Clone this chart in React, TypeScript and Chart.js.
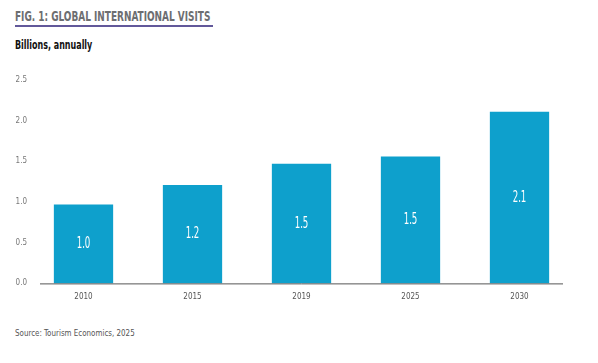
import React, { useEffect, useRef } from "react";
import { Chart, registerables } from "chart.js";

Chart.register(...registerables);

const categories = ["2010", "2015", "2019", "2025", "2030"];
const visits = [0.97, 1.21, 1.47, 1.56, 2.11];
const barLabels = ["1.0", "1.2", "1.5", "1.5", "2.1"];
const yTicks = [0, 0.5, 1.0, 1.5, 2.0, 2.5];

const FONT = "'DejaVu Sans Condensed', 'DejaVu Sans', sans-serif";
const BAR_COLOR = "#0ea0cc";

const insideLabels = {
  id: "insideLabels",
  afterDatasetsDraw(chart: any) {
    const ctx = chart.ctx;
    const meta = chart.getDatasetMeta(0);
    ctx.save();
    ctx.fillStyle = "#ffffff";
    ctx.font = `16px ${FONT}`;
    ctx.textAlign = "center";
    ctx.textBaseline = "middle";
    meta.data.forEach((bar: any, i: number) => {
      const mid = (bar.y + bar.base) / 2;
      ctx.save();
      ctx.translate(bar.x, mid);
      ctx.scale(0.6, 1);
      ctx.fillText(barLabels[i], 0, 0);
      ctx.restore();
    });
    ctx.restore();
  },
};

const baseLine = {
  id: "baseLine",
  afterDatasetsDraw(chart: any) {
    const { ctx, chartArea } = chart;
    const y = chart.scales.y.getPixelForValue(0);
    ctx.save();
    ctx.strokeStyle = "#555555";
    ctx.lineWidth = 1;
    ctx.beginPath();
    ctx.moveTo(chartArea.left + 11, y + 0.5);
    ctx.lineTo(chartArea.right - 11, y + 0.5);
    ctx.stroke();
    ctx.restore();
  },
};

function BarChart() {
  const ref = useRef<HTMLCanvasElement | null>(null);
  useEffect(() => {
    if (!ref.current) return;
    const chart = new Chart(ref.current, {
      type: "bar",
      data: {
        labels: categories,
        datasets: [
          {
            data: visits,
            backgroundColor: BAR_COLOR,
            categoryPercentage: 0.8,
            barPercentage: 0.68,
          },
        ],
      },
      options: {
        animation: false,
        responsive: false,
        maintainAspectRatio: false,
        layout: { padding: { top: 20, left: 0, right: 24, bottom: 11 } },
        plugins: { legend: { display: false }, tooltip: { enabled: false } },
        scales: {
          x: {
            grid: { display: false, drawTicks: false },
            border: { display: false },
            ticks: { color: "#555555", font: { family: FONT, size: 8 }, padding: 9 },
          },
          y: {
            min: 0,
            max: 2.5,
            grid: { display: false, drawTicks: false },
            border: { display: false },
            afterFit(scale: any) {
              scale.width = 29;
            },
            afterBuildTicks(scale: any) {
              scale.ticks = yTicks.map((v) => ({ value: v }));
            },
            ticks: {
              color: "#777777",
              font: { family: FONT, size: 8 },
              padding: 2,
              callback: (v: any) => Number(v).toFixed(1),
            },
          },
        },
      },
      plugins: [insideLabels, baseLine],
    });
    return () => chart.destroy();
  }, []);
  return <canvas ref={ref} width={598} height={262} style={{ position: "absolute", left: 0, top: 60 }} />;
}

export default function App() {
  return (
    <div
      style={{
        position: "fixed",
        left: 0,
        top: 0,
        width: 598,
        height: 363,
        background: "#ffffff",
        overflow: "hidden",
        fontFamily: FONT,
      }}
    >
      <div
        style={{
          position: "absolute",
          left: 15,
          top: 25,
          width: 198,
          height: 0,
          borderBottom: "2px solid #62589a",
        }}
      />
      <div
        style={{
          position: "absolute",
          left: 15,
          top: 8,
          fontSize: 14,
          fontWeight: "bold",
          color: "#6d6e71",
          whiteSpace: "nowrap",
          lineHeight: "16px",
          transform: "scaleX(0.71)",
          transformOrigin: "left top",
        }}
      >
        FIG. 1: GLOBAL INTERNATIONAL VISITS
      </div>
      <div
        style={{
          position: "absolute",
          left: 15,
          top: 38,
          fontSize: 12,
          fontWeight: "bold",
          color: "#111111",
          lineHeight: "14px",
          whiteSpace: "nowrap",
          transform: "scaleX(0.74)",
          transformOrigin: "left top",
        }}
      >
        Billions, annually
      </div>
      <BarChart />
      <div
        style={{
          position: "absolute",
          left: 15,
          top: 328,
          fontSize: 9,
          color: "#555555",
          lineHeight: "11px",
          whiteSpace: "nowrap",
          transform: "scaleX(0.88)",
          transformOrigin: "left top",
        }}
      >
        Source: Tourism Economics, 2025
      </div>
    </div>
  );
}
